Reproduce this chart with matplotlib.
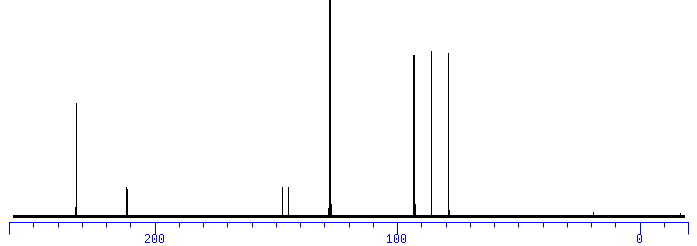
import matplotlib
matplotlib.use('Agg')
import matplotlib.pyplot as plt
from matplotlib.ticker import FixedLocator, MultipleLocator, FixedFormatter

# spectrum range (ppm) and peak list
spec_start = 258.5
spec_end = -18.5

peak_ppm    = [232.2, 211.7, 211.2, 147.4, 144.8, 128.0, 127.8, 127.6, 93.2, 93.0, 85.8, 78.8]
peak_height = [113,   29,    27,    28.5,  28.5,  300,   300,   300,   160.5, 160.5, 164.5, 162.5]

# small bumps at the foot of peaks / noise spikes
bump_ppm    = [232.6, 127.2, 128.5, 92.5, 78.5, 19.3, -16.5]
bump_height = [9,     12,    8,     12,   6,    4,    3]

major_ticks = [260, 200, 100, 0, -20]
major_labels = ['', '200', '100', '0', '']

plt.rcParams['text.antialiased'] = False

fig = plt.figure(figsize=(6.97, 2.46), dpi=100)
ax = fig.add_axes([9/697, 24/246, 679/697, 222/246])

# baseline band
ax.plot([spec_start, spec_end], [0, 0], color='black', lw=2.0, antialiased=False, solid_capstyle='butt')
ax.vlines(bump_ppm, 0, bump_height, color='black', lw=0.72, antialiased=False)
ax.vlines(peak_ppm, 0, peak_height, color='black', lw=0.72, antialiased=False)

ax.set_xlim(260, -20)
ax.set_ylim(-6.5, 215.5)

for s in ['top', 'left', 'right']:
    ax.spines[s].set_visible(False)
ax.spines['bottom'].set_color('blue')
ax.spines['bottom'].set_linewidth(0.72)
ax.spines['bottom'].set_antialiased(False)
ax.set_yticks([])

ax.xaxis.set_major_locator(FixedLocator(major_ticks))
ax.xaxis.set_major_formatter(FixedFormatter(major_labels))
ax.xaxis.set_minor_locator(MultipleLocator(10))
ax.tick_params(axis='x', which='major', direction='out', length=8.3, width=0.72,
               color='blue', labelcolor='blue', pad=0.5, labelsize=8.5)
ax.tick_params(axis='x', which='minor', direction='out', length=3.8, width=0.72, color='blue')
for lab in ax.get_xticklabels():
    lab.set_fontfamily('Liberation Mono')

fig.savefig('out.png', dpi=100)
